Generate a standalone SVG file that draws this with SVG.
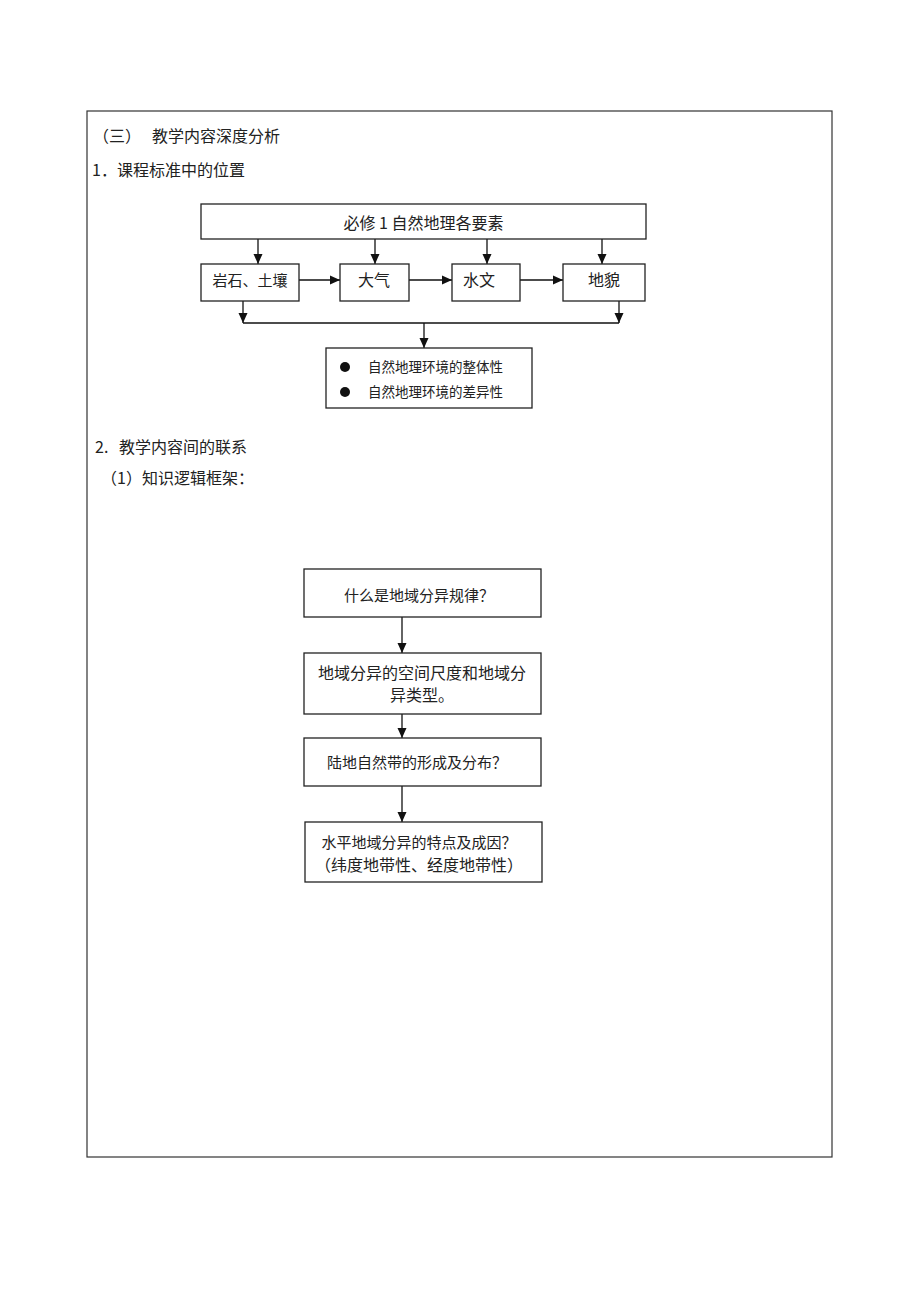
<svg xmlns="http://www.w3.org/2000/svg" width="920" height="1302" viewBox="0 0 920 1302">
<style>
text{font-family:"Noto Sans CJK SC","Noto Sans",sans-serif;fill:#222;}
.t16{font-size:16px;}
.t15{font-size:15px;}
.t13{font-size:13.5px;}
.box{fill:#fff;stroke:#222;stroke-width:1.3;}
.ln{fill:none;stroke:#111;stroke-width:1.3;}
</style>
<defs>
<marker id="ah" markerUnits="userSpaceOnUse" markerWidth="10" markerHeight="10" viewBox="0 0 10 10" refX="10" refY="5" orient="auto">
<path d="M0,0.5 L10,5 L0,9.5 Z" fill="#111"/>
</marker>
</defs>
<rect x="0" y="0" width="920" height="1302" fill="#fff"/>
<rect id="frame" x="87" y="111" width="745" height="1046" fill="none" stroke="#333" stroke-width="1.2"/>
<g id="headings">
<text class="t16" x="93" y="142">（三）</text>
<text class="t16" x="152" y="142">教学内容深度分析</text>
<text class="t16" x="92" y="176">1．课程标准中的位置</text>
<text class="t16" x="95" y="453">2.</text>
<text class="t16" x="119" y="453">教学内容间的联系</text>
<text class="t16" x="101" y="484">（1）知识逻辑框架：</text>
</g>
<g id="connectors">
<line class="ln" x1="258" y1="239" x2="258" y2="264" marker-end="url(#ah)"/>
<line class="ln" x1="375" y1="239" x2="375" y2="264" marker-end="url(#ah)"/>
<line class="ln" x1="487" y1="239" x2="487" y2="264" marker-end="url(#ah)"/>
<line class="ln" x1="602" y1="239" x2="602" y2="264" marker-end="url(#ah)"/>
<line class="ln" x1="299" y1="280" x2="340" y2="280" marker-end="url(#ah)"/>
<line class="ln" x1="409" y1="280" x2="452" y2="280" marker-end="url(#ah)"/>
<line class="ln" x1="520" y1="280" x2="563" y2="280" marker-end="url(#ah)"/>
<line class="ln" x1="243" y1="301" x2="243" y2="323" marker-end="url(#ah)"/>
<line class="ln" x1="619" y1="301" x2="619" y2="323" marker-end="url(#ah)"/>
<line class="ln" x1="243" y1="323" x2="619" y2="323"/>
<line class="ln" x1="424" y1="323" x2="424" y2="348" marker-end="url(#ah)"/>
<line class="ln" x1="402" y1="617" x2="402" y2="653" marker-end="url(#ah)"/>
<line class="ln" x1="402" y1="714" x2="402" y2="738" marker-end="url(#ah)"/>
<line class="ln" x1="402" y1="786" x2="402" y2="822" marker-end="url(#ah)"/>
</g>
<g id="n-top">
<rect class="box" x="201" y="204" width="445" height="35"/>
<text class="t16" x="423.5" y="229" text-anchor="middle">必修 1 自然地理各要素</text>
</g>
<g id="n-rock">
<rect class="box" x="201" y="264" width="98" height="37"/>
<text class="t15" x="250" y="286" text-anchor="middle">岩石、土壤</text>
</g>
<g id="n-air">
<rect class="box" x="340" y="264" width="69" height="37"/>
<text class="t16" x="374" y="286" text-anchor="middle">大气</text>
</g>
<g id="n-water">
<rect class="box" x="452" y="264" width="68" height="37"/>
<text class="t16" x="479" y="286" text-anchor="middle">水文</text>
</g>
<g id="n-land">
<rect class="box" x="563" y="264" width="82" height="37"/>
<text class="t16" x="604" y="286" text-anchor="middle">地貌</text>
</g>
<g id="n-result">
<rect class="box" x="326" y="348" width="206" height="60"/>
<circle cx="345" cy="367" r="5" fill="#111"/>
<circle cx="345" cy="392" r="5" fill="#111"/>
<text class="t13" x="368" y="372">自然地理环境的整体性</text>
<text class="t13" x="368" y="397">自然地理环境的差异性</text>
</g>
<g id="n-a">
<rect class="box" x="304" y="569" width="237" height="48"/>
<text class="t15" x="419" y="601" text-anchor="middle">什么是地域分异规律？</text>
</g>
<g id="n-b">
<rect class="box" x="304" y="653" width="237" height="61"/>
<text class="t16" x="422" y="679" text-anchor="middle">地域分异的空间尺度和地域分</text>
<text class="t16" x="422" y="701" text-anchor="middle">异类型。</text>
</g>
<g id="n-c">
<rect class="box" x="304" y="738" width="237" height="48"/>
<text class="t15" x="417" y="768" text-anchor="middle">陆地自然带的形成及分布？</text>
</g>
<g id="n-d">
<rect class="box" x="305" y="822" width="237" height="60"/>
<text class="t15" x="419" y="848" text-anchor="middle">水平地域分异的特点及成因？</text>
<text class="t16" x="419" y="871" text-anchor="middle">（纬度地带性、经度地带性）</text>
</g>
</svg>
